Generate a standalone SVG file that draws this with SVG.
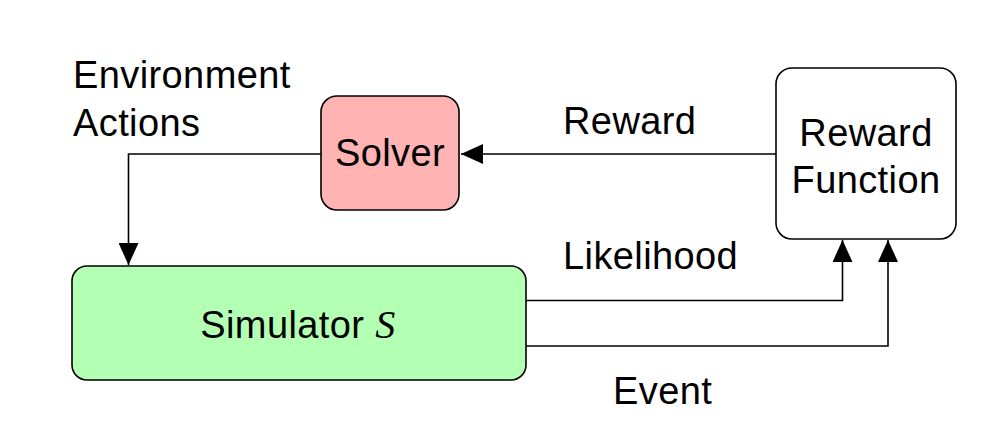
<svg xmlns="http://www.w3.org/2000/svg" width="1004" height="434" viewBox="0 0 1004 434">
<defs>
<style>
.box{stroke:#000;stroke-width:1.6}
.t{font-family:"Liberation Sans",Arial,sans-serif;font-size:38px;letter-spacing:0.4px;fill:#000}
.c{text-anchor:middle}
.line{fill:none;stroke:#000;stroke-width:1.6}
</style>
<marker id="ah" viewBox="0 0 22 20" refX="22" refY="10" markerWidth="22" markerHeight="20" markerUnits="userSpaceOnUse" orient="auto">
<path d="M0,0 L22,10 L0,20 Z" fill="#000"/>
</marker>
</defs>
<rect width="1004" height="434" fill="#fff"/>
<g id="connectors">
<path class="line" d="M776,154 H461" marker-end="url(#ah)"/>
<path class="line" d="M321,154 H128.5 V265" marker-end="url(#ah)"/>
<path class="line" d="M526,300.5 H842.5 V240" marker-end="url(#ah)"/>
<path class="line" d="M526,346 H888 V240" marker-end="url(#ah)"/>
</g>
<g id="solver">
<rect class="box" x="321" y="96" width="138" height="114" rx="16" fill="#ffb3b3"/>
<text class="t c" x="390" y="166">Solver</text>
</g>
<g id="simulator">
<rect class="box" x="72" y="266" width="454" height="114" rx="15" fill="#b3ffb3"/>
<text class="t c" x="298" y="338">Simulator <tspan font-family="Liberation Serif,serif" font-style="italic" font-size="40">S</tspan></text>
</g>
<g id="reward-function">
<rect class="box" x="776" y="68" width="180" height="171" rx="16" fill="#fff"/>
<text class="t c" x="866" y="146">Reward</text>
<text class="t c" x="866" y="193">Function</text>
</g>
<g id="labels">
<text class="t" x="73" y="88">Environment</text>
<text class="t" x="73" y="136">Actions</text>
<text class="t" x="563" y="134">Reward</text>
<text class="t" x="563" y="269">Likelihood</text>
<text class="t" x="613" y="404">Event</text>
</g>
</svg>
